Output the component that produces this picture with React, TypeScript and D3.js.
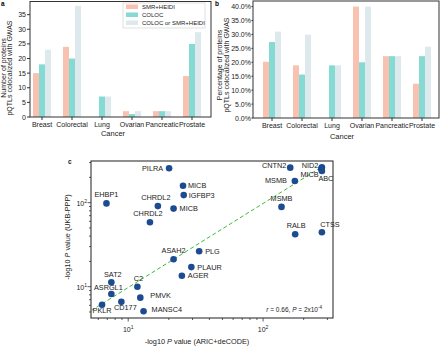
import * as d3 from "d3";

const cancers = ["Breast", "Colorectal", "Lung", "Ovarian", "Pancreatic", "Prostate"];
const methods = ["SMR+HEIDI", "COLOC", "COLOC or SMR+HEIDI"];
const methodColors = ["#f9c1af", "#86dad4", "#dde9ec"];

// panel a: number of proteins
const countSmr = [15, 24, 0, 2, 2, 14];
const countColoc = [18, 20, 7, 1, 2, 25];
const countEither = [23, 38, 7, 2, 2, 29];
const countTicks = [0, 5, 10, 15, 20, 25, 30, 35];

// panel b: percentage of proteins
const pctSmr = [20.2, 18.9, 0, 40, 22.2, 12.3];
const pctColoc = [27.3, 15.6, 18.9, 20, 22.2, 22.2];
const pctEither = [31.0, 29.9, 18.9, 40, 22.2, 25.6];
const pctTicks = [0, 5, 10, 15, 20, 25, 30, 35, 40];

// panel c: -log10 P, ARIC+deCODE vs UKB-PPP
const genes = [
  "PILRA", "MICB", "IGFBP3", "EHBP1", "CHRDL2", "MICB", "CHRDL2", "ASAH2", "PLG", "PLAUR", "AGER",
  "SAT2", "C2", "ASRGL1", "PMVK", "CD177", "PKLR", "MANSC4",
  "CNTN2", "NID2", "MICB", "ABC", "MSMB", "MSMB", "RALB", "CTSS",
];
const aricLogP = [
  20.1, 25.5, 25.8, 6.9, 16.6, 21.7, 14.5, 21.7, 33.6, 29.4, 25.0,
  7.5, 11.7, 7.5, 12.3, 8.9, 6.4, 13.0,
  159, 273, 270, 273, 172, 137, 173, 273,
];
const ukbLogP = [
  257, 159, 123, 98, 91, 85, 58.5, 21.2, 26.4, 17.1, 13.5,
  11.3, 10.0, 8.2, 7.4, 6.6, 6.1, 5.1,
  261, 264, 252, 238, 181, 89, 42.1, 44.5,
];
// label offset from point: dx, dy, anchor
const labelPlace: [number, number, string][] = [
  [-6, 2.5, "end"], [5, 2.5, "start"], [5, 3, "start"], [0, -6, "middle"], [-2, -6, "middle"],
  [6, 2.5, "start"], [-2, -6, "middle"], [0, -6, "middle"], [6, 2.5, "start"], [6, 2.5, "start"],
  [6, 2.5, "start"], [1.5, -5.5, "middle"], [1, -5.5, "middle"], [-3, -4, "middle"], [10, 0.5, "start"],
  [4, 8.5, "middle"], [0, 8.5, "middle"], [8, 0.5, "start"],
  [-4, 0.5, "end"], [-3.5, 0.5, "end"], [-2.5, 8, "end"], [4, 10.5, "middle"], [-8, 2.5, "end"],
  [0, -5.5, "middle"], [1, -6, "middle"], [8, -5, "middle"],
];
const fitSlope = 1.0;
const fitIntercept = -0.01;
const fitRange = [5.3, 270];

const FONT = "'Liberation Sans', Arial, sans-serif";
const AXIS = "#333";

function BarPanel(props: {
  x0: number; x1: number; y0: number; y1: number; bandStart: number;
  max: number; ticks: number[]; fmt: (v: number) => string; tickGap: number;
  series: number[][]; ylab: string[]; ylabX: number; ylabY: number;
  cancerX: number; cancerY: number; legend?: boolean;
}) {
  const { x0, x1, y0, y1, max, ticks, fmt, series, tickGap } = props;
  const x = d3.scaleBand().domain(cancers).range([props.bandStart, props.bandStart + 180]).paddingInner(0.4).paddingOuter(0.2);
  const y = d3.scaleLinear().domain([0, max]).range([y1, y0]);
  const sub = d3.scaleBand().domain(methods).range([0, x.bandwidth()]);
  return (
    <g fontFamily={FONT}>
      {cancers.map((c, i) =>
        methods.map((m, j) =>
          series[j][i] > 0 ? (
            <rect key={c + m} x={(x(c) as number) + (sub(m) as number)} width={sub.bandwidth()}
              y={y(series[j][i])} height={y(0) - y(series[j][i])} fill={methodColors[j]} />
          ) : null
        )
      )}
      <rect x={x0} y={y0} width={x1 - x0} height={y1 - y0} fill="none" stroke={AXIS} strokeWidth={1} />
      {ticks.map((t) => (
        <g key={t}>
          <line x1={x0 - Math.min(3, tickGap - 0.5)} x2={x0} y1={y(t)} y2={y(t)} stroke={AXIS} />
          <text x={x0 - tickGap} y={y(t) + 2.5} textAnchor="end" fontSize={7} fill="#222">{fmt(t)}</text>
        </g>
      ))}
      {cancers.map((c) => {
        const cx = (x(c) as number) + x.bandwidth() / 2;
        return (
          <g key={c}>
            <line x1={cx} x2={cx} y1={y1} y2={y1 + 3} stroke={AXIS} />
            <text x={cx} y={y1 + 10} textAnchor="middle" fontSize={7} fill="#222">{c}</text>
          </g>
        );
      })}
      <text x={props.cancerX} y={props.cancerY} textAnchor="middle" fontSize={7.5} fill="#222">Cancer</text>
      <text transform={`translate(${props.ylabX},${props.ylabY}) rotate(-90)`} textAnchor="middle" fontSize={7} fill="#222">
        <tspan x={0} dy={0}>{props.ylab[0]}</tspan>
        <tspan x={0} dy={6.5}>{props.ylab[1]}</tspan>
      </text>
      {props.legend && (
        <g>
          <rect x={123} y={3} width={82} height={25} fill="white" stroke="#ccc" strokeWidth={0.6} />
          {methods.map((m, j) => (
            <g key={m}>
              <rect x={126} y={4.5 + j * 8} width={12} height={4.5} fill={methodColors[j]} />
              <text x={142} y={9 + j * 8} fontSize={6} fill="#222">{m}</text>
            </g>
          ))}
        </g>
      )}
    </g>
  );
}

function Sup({ base, exp, size }: { base: string; exp: string; size: number }) {
  return (
    <>
      {base}
      <tspan dy={-3} fontSize={size * 0.72}>{exp}</tspan>
    </>
  );
}

function ScatterPanel() {
  const L = 91, R = 333, T = 161, B = 318;
  const x = d3.scaleLog().domain([5.3, 330]).range([L, R]);
  const y = d3.scaleLog().domain([4.24, 313]).range([B, T]);
  const isMajor = (v: number) => Math.abs(Math.log10(v) - Math.round(Math.log10(v))) < 1e-6;
  const fitPts = fitRange.map((v) => [v, Math.pow(10, fitSlope * Math.log10(v) + fitIntercept)]);
  const line = d3.line<number[]>().x((d) => x(d[0])).y((d) => y(d[1]));
  return (
    <g fontFamily={FONT} fill="#222">
      <rect x={L} y={T} width={R - L} height={B - T} fill="none" stroke={AXIS} strokeWidth={1.1} />
      {x.ticks().map((t) => (
        <line key={"x" + t} x1={x(t)} x2={x(t)} y1={B} y2={B + (isMajor(t) ? 3.5 : 2)} stroke={AXIS} strokeWidth={0.8} />
      ))}
      {y.ticks().map((t) => (
        <line key={"y" + t} x1={L - (isMajor(t) ? 3.5 : 2)} x2={L} y1={y(t)} y2={y(t)} stroke={AXIS} strokeWidth={0.8} />
      ))}
      {x.ticks().filter(isMajor).map((t) => (
        <text key={"xl" + t} x={x(t)} y={B + 14} textAnchor="middle" fontSize={7}>
          <Sup base="10" exp={String(Math.round(Math.log10(t)))} size={7} />
        </text>
      ))}
      {y.ticks().filter(isMajor).map((t) => (
        <text key={"yl" + t} x={L - 4} y={y(t) + 3} textAnchor="end" fontSize={7}>
          <Sup base="10" exp={String(Math.round(Math.log10(t)))} size={7} />
        </text>
      ))}
      <path d={line(fitPts) || ""} fill="none" stroke="#3dbb3a" strokeWidth={1} strokeDasharray="4,2.5" />
      {genes.map((g, i) => (
        <circle key={"p" + i} cx={x(aricLogP[i])} cy={y(ukbLogP[i])} r={3.3} fill="#1c4b91" />
      ))}
      {genes.map((g, i) => (
        <text key={"t" + i} x={x(aricLogP[i]) + labelPlace[i][0]} y={y(ukbLogP[i]) + labelPlace[i][1]}
          textAnchor={labelPlace[i][2] as any} fontSize={7.3}>{g}</text>
      ))}
      <text x={322} y={311.5} textAnchor="end" fontSize={6.5}>
        <tspan fontStyle="italic">r</tspan> = 0.66, <tspan fontStyle="italic">P</tspan> = 2x10
        <tspan dy={-2.5} fontSize={4.5}>-4</tspan>
      </text>
      <text x={197} y={344} textAnchor="middle" fontSize={7.3}>
        -log10 <tspan fontStyle="italic">P</tspan> value (ARIC+deCODE)
      </text>
      <text transform={`translate(70,237) rotate(-90)`} textAnchor="middle" fontSize={7.3}>
        -log10 <tspan fontStyle="italic">P</tspan> value (UKB-PPP)
      </text>
      <text x={68} y={164} fontSize={6.5} fontWeight="bold">c</text>
    </g>
  );
}

export default function App() {
  return (
    <svg width={440} height={346} style={{ position: "absolute", left: 0, top: 0, background: "white" }}>
      <rect width={440} height={346} fill="white" />
      <BarPanel x0={30} x1={211} y0={1.5} y1={117} bandStart={27} max={39.5} ticks={countTicks}
        fmt={(v) => String(v)} tickGap={4} series={[countSmr, countColoc, countEither]}
        ylab={["Number of proteins", "pQTLs colocalized with GWAS"]} ylabX={5.5} ylabY={68}
        cancerX={113} cancerY={136} legend />
      <BarPanel x0={253} x1={439} y0={1} y1={118} bandStart={257} max={42} ticks={pctTicks}
        fmt={(v) => d3.format(".1f")(v) + "%"} tickGap={2} series={[pctSmr, pctColoc, pctEither]}
        ylab={["Percentage of proteins", "pQTLs colocalized with GWAS"]} ylabX={222} ylabY={65}
        cancerX={342} cancerY={139} />
      <text x={1} y={6} fontSize={6.5} fontWeight="bold" fontFamily={FONT}>a</text>
      <text x={215} y={6} fontSize={6.5} fontWeight="bold" fontFamily={FONT}>b</text>
      <ScatterPanel />
    </svg>
  );
}
